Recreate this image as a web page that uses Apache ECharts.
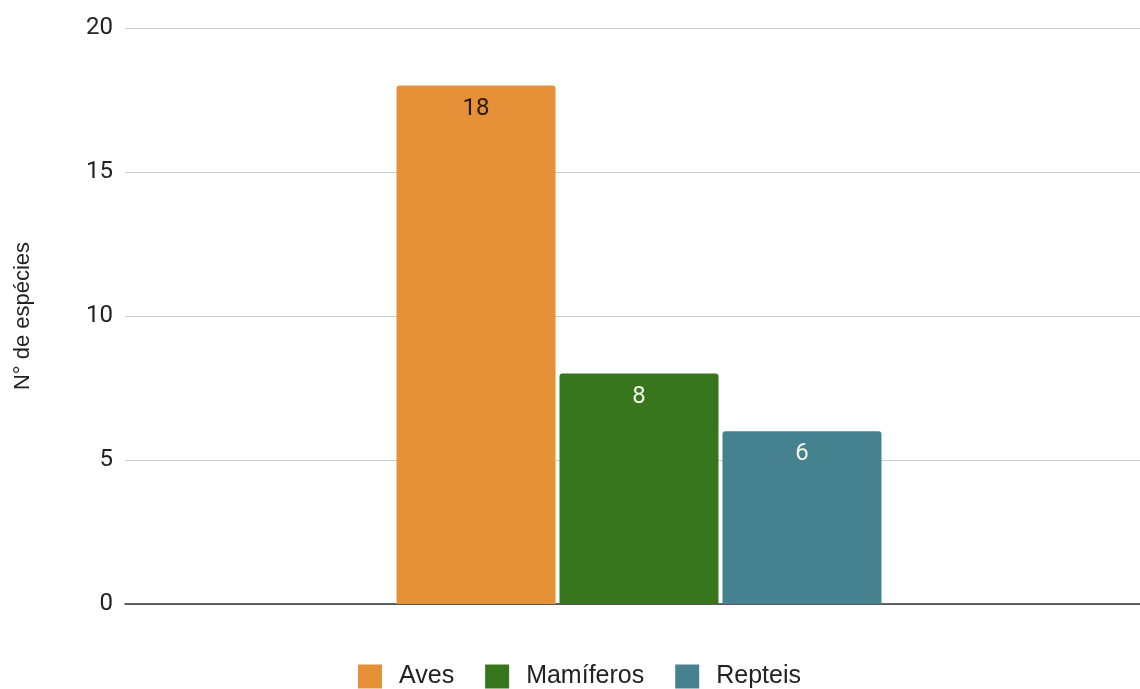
<!DOCTYPE html>
<html><head><meta charset="utf-8">
<script src="https://cdn.jsdelivr.net/npm/echarts@6/dist/echarts.min.js"></script>
<style>html,body{margin:0;padding:0;background:#fff}#c{width:1140px;height:689px}</style>
</head><body><div id="c"></div>
<script>
const categories = [''];
const seriesNames = ['Aves', 'Mamíferos', 'Repteis'];
const aves = [18];
const mamiferos = [8];
const repteis = [6];
const colors = ['#E69138', '#38761D', '#45818E'];
const labelColors = ['#2a1a0a', '#f2f7ee', '#f2f7ee'];
const values = [aves, mamiferos, repteis];

const chart = echarts.init(document.getElementById('c'));
chart.setOption({
  animation: false,
  grid: { left: 125, right: -13, top: 28, bottom: 85, outerBoundsMode: 'none', containLabel: false },
  legend: {
    bottom: -5, left: 353,
    itemWidth: 24, itemHeight: 24, itemGap: 31,
    icon: 'rect',
    textStyle: { fontFamily: 'Liberation Sans', fontSize: 25, color: '#222', padding: [0,0,0,12] },
    data: seriesNames
  },
  xAxis: {
    type: 'category', data: categories,
    axisLine: { lineStyle: { color: '#333', width: 1.5 } },
    axisTick: { show: false }, axisLabel: { show: false }
  },
  yAxis: {
    type: 'value', min: 0, max: 20, interval: 5,
    name: 'N° de espécies', nameLocation: 'middle', nameGap: 91,
    nameTextStyle: { fontFamily: 'Liberation Sans', fontSize: 22, color: '#222' },
    axisLabel: { fontFamily: 'Roboto', fontSize: 24, color: '#222', margin: 12 },
    splitLine: { lineStyle: { color: '#cccccc', width: 1 } },
    axisLine: { show: false }, axisTick: { show: false }
  },
  series: seriesNames.map((n, i) => ({
    name: n, type: 'bar', data: values[i],
    barWidth: 159, barGap: '2.5%',
    itemStyle: { color: colors[i], borderRadius: [3,3,0,0] },
    label: { show: true, position: 'insideTop', distance: 11, fontFamily: 'Roboto', fontSize: 24, color: labelColors[i] }
  }))
});
</script></body></html>
